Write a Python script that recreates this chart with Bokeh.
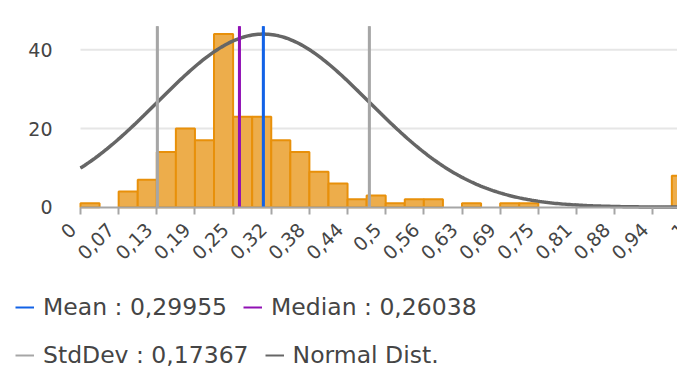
import math
import numpy as np
from bokeh.plotting import figure
from bokeh.models import Range1d, FixedTicker, Legend, LegendItem, ColumnDataSource
from bokeh.embed import file_html
from bokeh.resources import INLINE

# ---- data ----
bin_width = 1 / 32
counts = [1, 0, 4, 7, 14, 20, 17, 44, 23, 23, 17, 14, 9, 6, 2, 3,
          1, 2, 2, 0, 1, 0, 1, 1, 0, 0, 0, 0, 0, 0, 0, 8]
tick_values = [i / 16 for i in range(17)]
tick_labels = ["0", "0,07", "0,13", "0,19", "0,25", "0,32", "0,38", "0,44", "0,5",
               "0,56", "0,63", "0,69", "0,75", "0,81", "0,88", "0,94", "1"]
y_ticks = [0, 20, 40]
Y_TOP = 46          # top of the plotting area (value axis)
MEAN = 0.29955
MEDIAN = 0.26038
STD = 0.17367

FONT = "DejaVu Sans"
TEXT = "#454545"
C_MEAN, C_MED, C_STD, C_NORM = "#1262E6", "#9010B4", "#A6A6A6", "#666666"

W, H = 677, 371
# plotting area in pixels: x=0 at px 80, 1 unit = 610.4 px; y=0 at px 206.7, 46 at px 25.7
PX_X0, SX = 80.0, 610.4
PX_Y0, PX_YT = 206.7, 25.7
SY = (PX_Y0 - PX_YT) / Y_TOP
x_range = Range1d(-PX_X0 / SX, (W - PX_X0) / SX)
y_range = Range1d(-(H - PX_Y0) / SY, PX_Y0 / SY)

p = figure(width=W, height=H, output_backend="svg", toolbar_location=None,
           x_range=x_range, y_range=y_range, min_border=0)
p.outline_line_color = None
p.background_fill_color = "white"
p.border_fill_color = "white"
p.xgrid.visible = False
p.ygrid.visible = False

# horizontal grid lines
grid_y = [t for t in y_ticks if t > 0]
p.segment(x0=[0] * len(grid_y), x1=[1] * len(grid_y), y0=grid_y, y1=grid_y,
          line_color="#E6E6E6", line_width=2)

# histogram bars (skip empty bins)
lefts = [i * bin_width for i, c in enumerate(counts) if c > 0]
rights = [(i + 1) * bin_width for i, c in enumerate(counts) if c > 0]
tops = [c for c in counts if c > 0]
src = ColumnDataSource(dict(left=lefts, right=rights, top=tops))
p.quad(left="left", right="right", bottom=0, top="top", source=src,
       fill_color="#EDAD4B", line_color="#E8900A", line_width=2)

# normal distribution curve scaled to the tallest bin
xs = np.linspace(0, 1, 300)
ys = max(counts) * np.exp(-((xs - MEAN) ** 2) / (2 * STD ** 2))
r_norm = p.line(xs, ys, line_color=C_NORM, line_width=2)      # legend glyph
p.line(xs, ys, line_color=C_NORM, line_width=3.5)

# vertical statistic lines (thin copies first, used as legend glyphs)
r_std = p.segment(x0=[MEAN - STD, MEAN + STD], x1=[MEAN - STD, MEAN + STD],
                  y0=[0, 0], y1=[Y_TOP, Y_TOP], line_color=C_STD, line_width=2)
r_med = p.line([MEDIAN, MEDIAN], [0, Y_TOP], line_color=C_MED, line_width=2)
r_mean = p.line([MEAN, MEAN], [0, Y_TOP], line_color=C_MEAN, line_width=2)

stat_x = [MEAN - STD, MEAN + STD, MEDIAN, MEAN]
stat_c = [C_STD, C_STD, C_MED, C_MEAN]
p.segment(x0=stat_x, x1=stat_x, y0=[0] * 4, y1=[Y_TOP] * 4,
          line_color=stat_c, line_width=3)

# x axis at y = 0
xa = p.xaxis[0]
xa.fixed_location = 0
xa.bounds = (0, 1)
xa.ticker = FixedTicker(ticks=tick_values, minor_ticks=[])
xa.axis_line_color = "#A6A6A6"
xa.axis_line_width = 2
xa.major_tick_line_color = "#A6A6A6"
xa.major_tick_line_width = 2
xa.major_tick_out = 7
xa.major_tick_in = 0
xa.minor_tick_line_color = None
xa.major_label_text_color = None
xa.major_label_text_font_size = "1px"

# rotated tick labels
p.text(x=tick_values, y=[0] * len(tick_values), text=tick_labels,
       angle=math.pi / 4, x_offset=-8, y_offset=19,
       text_align="right", text_baseline="middle",
       text_font={"value": FONT}, text_font_size={"value": "19px"},
       text_color=TEXT)

# y axis labels
ya = p.yaxis[0]
ya.fixed_location = 0
ya.bounds = (0, 40)
ya.ticker = FixedTicker(ticks=y_ticks, minor_ticks=[])
ya.axis_line_color = None
ya.major_tick_line_color = None
ya.minor_tick_line_color = None
ya.major_tick_out = 0
ya.major_tick_in = 0
ya.major_label_standoff = 28
ya.major_label_text_font = FONT
ya.major_label_text_font_size = "19px"
ya.major_label_text_color = TEXT


def fmt(v):
    return f"{v:.5f}".replace(".", ",")


def make_legend(items, loc):
    return Legend(items=items, orientation="horizontal", location=loc,
                  padding=0, margin=0, spacing=16, label_standoff=9,
                  glyph_width=19, glyph_height=20,
                  border_line_color=None, background_fill_alpha=0,
                  label_text_font=FONT, label_text_font_size="23.5px",
                  label_text_color=TEXT)


leg1 = make_legend([LegendItem(label=f"Mean : {fmt(MEAN)}", renderers=[r_mean]),
                    LegendItem(label=f"Median : {fmt(MEDIAN)}", renderers=[r_med])],
                   (15, 50))
leg2 = make_legend([LegendItem(label=f"StdDev : {fmt(STD)}", renderers=[r_std]),
                    LegendItem(label="Normal Dist.", renderers=[r_norm])],
                   (15, 2))
p.add_layout(leg1, "center")
p.add_layout(leg2, "center")

open("out.html", "w").write(file_html(p, INLINE))
